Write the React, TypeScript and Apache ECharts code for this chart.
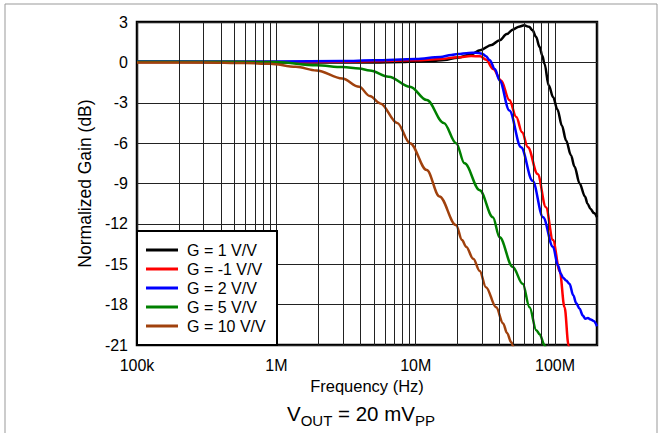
import React, { useEffect, useRef } from 'react';
import * as echarts from 'echarts';

const FONT = '"Liberation Sans", Arial, Helvetica, sans-serif';

// x axis (Hz)
const xTickValues = [1e5, 1e6, 1e7, 1e8];
const xTickLabels = ['100k', '1M', '10M', '100M'];
const minorGridFreqs = [
  2e5, 3e5, 4e5, 5e5, 6e5, 7e5, 8e5, 9e5,
  2e6, 3e6, 4e6, 5e6, 6e6, 7e6, 8e6, 9e6,
  2e7, 3e7, 4e7, 5e7, 6e7, 7e7, 8e7, 9e7,
];

const seriesNames = ['G = 1 V/V', 'G = -1 V/V', 'G = 2 V/V', 'G = 5 V/V', 'G = 10 V/V'];
const seriesColors = ['#000000', '#ff0000', '#0000ff', '#008000', '#a0410d'];

// G = 1 V/V
const g1FreqMHz = [0.1, 0.2, 0.5, 1, 2, 5, 8, 10, 13, 16, 20, 25, 29, 35, 40, 45, 50, 55, 60, 65, 69, 73, 77.5, 81, 84, 90, 97, 104, 112, 120, 130, 138, 150, 164, 171, 180, 190, 200];
const g1Gain = [0.02, 0.02, 0.0, 0.0, 0.0, 0.0, 0.03, 0.06, 0.1, 0.18, 0.35, 0.6, 0.9, 1.3, 1.65, 2.1, 2.45, 2.65, 2.75, 2.65, 2.38, 1.9, 1.14, 0.5, -0.1, -1.7, -2.6, -3.5, -4.7, -5.8, -6.9, -7.75, -9.0, -9.96, -10.5, -10.9, -11.2, -11.5];

// G = -1 V/V
const gm1FreqMHz = [0.1, 0.3, 1, 3, 5, 10, 15, 20, 25, 29, 32, 36, 41, 47, 52.7, 58, 63.8, 75, 86, 96.6, 108, 117, 125, 128];
const gm1Gain = [0.02, 0.02, 0.02, 0.05, 0.08, 0.15, 0.25, 0.38, 0.47, 0.45, 0.2, -0.5, -1.34, -2.8, -4.06, -5.2, -6.3, -8.3, -10.76, -13.2, -15.5, -18.2, -21.0, -22.0];

// G = 2 V/V
const g2FreqMHz = [0.1, 0.3, 1, 3, 5, 10, 15, 18, 20, 24, 27, 30, 32, 34, 37, 40, 47, 57, 69, 82, 96.6, 105, 110, 114, 120, 127, 135, 142, 150, 158, 165, 172, 180, 188, 200];
const g2Gain = [0.07, 0.07, 0.07, 0.1, 0.15, 0.25, 0.4, 0.55, 0.62, 0.7, 0.72, 0.65, 0.45, 0.15, -0.5, -1.34, -3.57, -6.3, -8.8, -11.5, -13.7, -15.1, -15.7, -16.0, -16.2, -16.45, -17.3, -17.9, -18.3, -18.8, -19.05, -19.0, -19.1, -19.2, -19.6];

// G = 5 V/V
const g5FreqMHz = [0.1, 0.5, 1, 1.94, 3, 3.93, 4.68, 6.4, 9.1, 12, 15.9, 19.5, 22.4, 28.8, 35.8, 40, 49.7, 58.6, 65.6, 73.3, 77.5, 84, 87];
const g5Gain = [0.05, 0.05, 0.02, -0.22, -0.35, -0.45, -0.6, -1.07, -1.81, -2.8, -4.5, -6.0, -7.5, -9.5, -11.5, -13.0, -15.2, -16.45, -18.2, -19.9, -20.2, -21.0, -21.5];

// G = 10 V/V
const g10FreqMHz = [0.1, 0.3, 0.6, 0.9, 1.38, 1.94, 2.97, 3.93, 4.68, 5.57, 7.37, 9.1, 12, 14.8, 19.5, 21.5, 23, 25.9, 28.8, 31.9, 37.8, 42.4, 45.2, 48.5, 51, 53];
const g10Gain = [0.0, 0.0, -0.05, -0.1, -0.33, -0.6, -1.2, -1.81, -2.5, -3.05, -4.5, -6.0, -8.0, -9.96, -12.1, -13.2, -13.7, -14.6, -15.5, -16.7, -18.2, -19.4, -20.1, -20.8, -21.3, -21.6];

const curveFreqs = [g1FreqMHz, gm1FreqMHz, g2FreqMHz, g5FreqMHz, g10FreqMHz];
const curveGains = [g1Gain, gm1Gain, g2Gain, g5Gain, g10Gain];

export default function App() {
  const ref = useRef<HTMLDivElement>(null);
  useEffect(() => {
    document.body.style.margin = '0';
    if (!ref.current) return;
    const chart = echarts.init(ref.current, undefined, { renderer: 'svg' });

    const lineSeries = seriesNames.map((name, i) => ({
      name,
      type: 'line',
      data: curveFreqs[i].map((f, j) => [f * 1e6, curveGains[i][j]]),
      showSymbol: false,
      symbol: 'none',
      smooth: 0.35,
      smoothMonotone: 'x',
      clip: true,
      z: 3,
      lineStyle: { color: seriesColors[i], width: 2.5 },
      itemStyle: { color: seriesColors[i] },
    }));

    const option = {
      animation: false,
      grid: {
        left: 137, right: 66, top: 22, bottom: 88,
        show: true, borderColor: '#000', borderWidth: 2.5, backgroundColor: 'transparent',
      },
      xAxis: {
        type: 'log',
        logBase: 10,
        min: 1e5,
        max: 2e8,
        axisLine: { show: false },
        axisTick: { show: false },
        splitLine: { show: true, lineStyle: { color: '#222', width: 1 } },
        axisLabel: {
          fontSize: 16, color: '#000', fontFamily: FONT, margin: 12,
          formatter: (v: number) => {
            const e = Math.log10(v);
            const idx = xTickValues.findIndex((t) => Math.abs(Math.log10(t) - e) < 1e-6);
            return idx >= 0 ? xTickLabels[idx] : '';
          },
        },
        name: 'Frequency (Hz)',
        nameLocation: 'middle',
        nameGap: 29,
        nameTextStyle: { fontSize: 16.5, color: '#000', fontFamily: FONT },
      },
      yAxis: {
        type: 'value',
        min: -21,
        max: 3,
        interval: 3,
        axisLine: { show: false },
        axisTick: { show: false },
        splitLine: { show: true, lineStyle: { color: '#222', width: 1 } },
        axisLabel: { fontSize: 16, color: '#000', fontFamily: FONT, margin: 9 },
        name: 'Normalized Gain (dB)',
        nameLocation: 'middle',
        nameGap: 41,
        nameTextStyle: { fontSize: 17.5, color: '#000', fontFamily: FONT },
      },
      legend: {
        data: seriesNames,
        orient: 'vertical',
        left: 146,
        top: 240.5,
        itemWidth: 32,
        itemHeight: 3,
        itemGap: 0,
        icon: 'rect',
        padding: 0,
        selectedMode: false,
        z: 20,
        textStyle: { fontSize: 16, color: '#000', fontFamily: FONT, lineHeight: 19, padding: [0, 0, 0, 4] },
      },
      graphic: [
        {
          type: 'rect', silent: true, z: 0,
          shape: { x: 5, y: 4, width: 652, height: 440 },
          style: { fill: 'none', stroke: '#999', lineWidth: 1 },
        },
        {
          type: 'rect', silent: true, z: 15,
          shape: { x: 137, y: 231, width: 140, height: 114 },
          style: { fill: '#fff', stroke: '#000', lineWidth: 2 },
        },
        {
          type: 'text', silent: true, z: 15,
          x: 361, y: 413.5,
          style: {
            text: '{n|V}{s|OUT}{n| = 20 mV}{s|PP}',
            align: 'center',
            verticalAlign: 'middle',
            fill: '#000',
            rich: {
              n: { fontSize: 20.5, fontFamily: FONT, fill: '#000' },
              s: { fontSize: 15, fontFamily: FONT, fill: '#000', padding: [13, 0, 0, 0] },
            },
          },
        },
      ],
      series: [
        {
          type: 'line',
          data: [],
          silent: true,
          z: 1,
          markLine: {
            silent: true,
            symbol: ['none', 'none'],
            label: { show: false },
            lineStyle: { color: '#222', width: 1, type: 'solid' },
            data: minorGridFreqs.map((v) => ({ xAxis: v })),
          },
        },
        ...lineSeries,
      ],
    };

    chart.setOption(option as any);
    return () => chart.dispose();
  }, []);

  return <div ref={ref} style={{ position: 'absolute', left: 0, top: 0, width: 663, height: 433 }} />;
}
